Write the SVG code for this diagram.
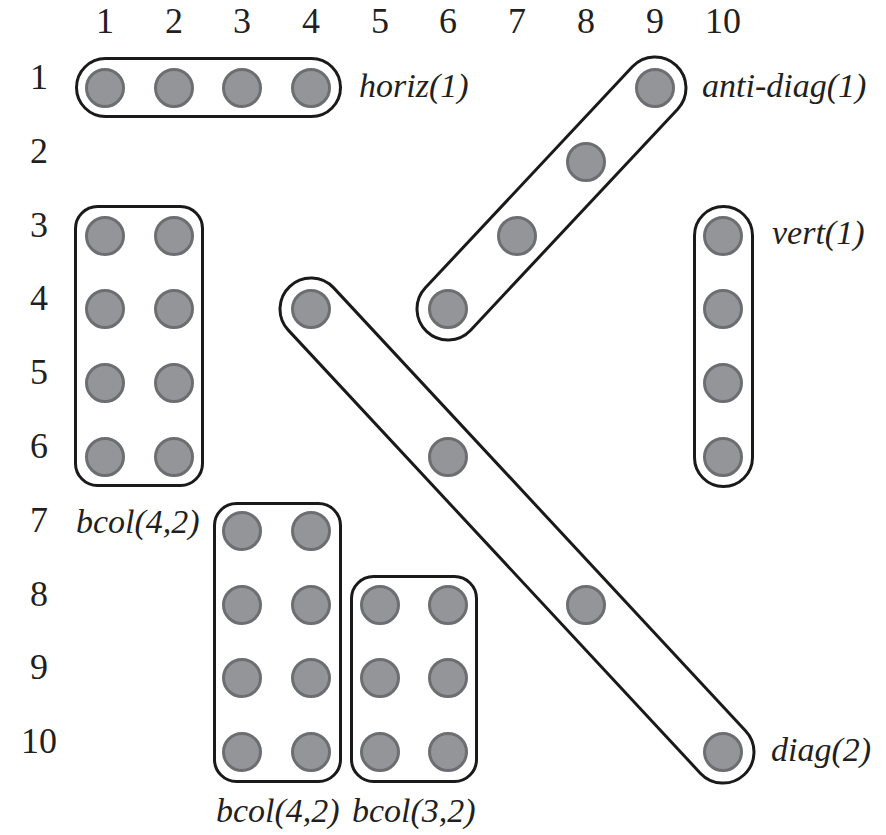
<svg xmlns="http://www.w3.org/2000/svg" width="886" height="835" viewBox="0 0 886 835">
  <style>
    .bg { fill: #ffffff; }
    .axis { font-family: "Liberation Serif", "DejaVu Serif", serif; font-size: 36px; fill: #231f20; text-anchor: middle; }
    .lbl { font-family: "Liberation Serif", "DejaVu Serif", serif; font-size: 34px; font-style: italic; fill: #231f20; }
    .grp { fill: none; stroke: #1a1a1a; stroke-width: 3; }
    .cell { fill: #939598; stroke: #6d6e71; stroke-width: 3; }
  </style>
  <defs>
    <circle id="dot" r="18.5" class="cell"/>
  </defs>
  <rect class="bg" x="0" y="0" width="886" height="835"/>

  <!-- column indices -->
  <g id="col-axis">
    <text class="axis" x="105" y="33">1</text>
    <text class="axis" x="174" y="33">2</text>
    <text class="axis" x="242" y="33">3</text>
    <text class="axis" x="311" y="33">4</text>
    <text class="axis" x="380" y="33">5</text>
    <text class="axis" x="448" y="33">6</text>
    <text class="axis" x="517" y="33">7</text>
    <text class="axis" x="586" y="33">8</text>
    <text class="axis" x="655" y="33">9</text>
    <text class="axis" x="723" y="33">10</text>
  </g>

  <!-- row indices -->
  <g id="row-axis">
    <text class="axis" x="39" y="89">1</text>
    <text class="axis" x="39" y="163">2</text>
    <text class="axis" x="39" y="237">3</text>
    <text class="axis" x="39" y="310">4</text>
    <text class="axis" x="39" y="384">5</text>
    <text class="axis" x="39" y="458">6</text>
    <text class="axis" x="39" y="532">7</text>
    <text class="axis" x="39" y="606">8</text>
    <text class="axis" x="39" y="679">9</text>
    <text class="axis" x="39" y="753">10</text>
  </g>

  <!-- horizontal group, row 1 cols 1-4 -->
  <g id="horiz">
    <rect class="grp" x="76.5" y="58.5" width="264" height="58" rx="29"/>
    <use href="#dot" x="105" y="88"/>
    <use href="#dot" x="174" y="88"/>
    <use href="#dot" x="242" y="88"/>
    <use href="#dot" x="311" y="88"/>
    <text class="lbl" x="359" y="97">horiz(1)</text>
  </g>

  <!-- anti-diagonal group -->
  <g id="anti-diag">
    <rect class="grp" transform="translate(448,309) rotate(-46.88)" x="-31" y="-31" width="364.8" height="62" rx="31"/>
    <use href="#dot" x="448" y="309"/>
    <use href="#dot" x="517" y="236"/>
    <use href="#dot" x="586" y="162"/>
    <use href="#dot" x="655" y="88"/>
    <text class="lbl" x="702" y="97">anti-diag(1)</text>
  </g>

  <!-- vertical group, col 10 rows 3-6 -->
  <g id="vert">
    <rect class="grp" x="694.5" y="206.5" width="58" height="280" rx="29"/>
    <use href="#dot" x="723" y="236"/>
    <use href="#dot" x="723" y="309"/>
    <use href="#dot" x="723" y="383"/>
    <use href="#dot" x="723" y="457"/>
    <text class="lbl" x="772" y="244">vert(1)</text>
  </g>

  <!-- diagonal group, step 2 -->
  <g id="diag">
    <rect class="grp" transform="translate(311,309) rotate(47.08)" x="-31" y="-31" width="667" height="62" rx="31"/>
    <use href="#dot" x="311" y="309"/>
    <use href="#dot" x="448" y="457"/>
    <use href="#dot" x="586" y="605"/>
    <use href="#dot" x="723" y="752"/>
    <text class="lbl" x="771" y="761">diag(2)</text>
  </g>

  <!-- block of columns, rows 3-6 cols 1-2 -->
  <g id="bcol-a">
    <rect class="grp" x="75.5" y="206.5" width="127" height="279" rx="22"/>
    <use href="#dot" x="105" y="236"/>
    <use href="#dot" x="174" y="236"/>
    <use href="#dot" x="105" y="309"/>
    <use href="#dot" x="174" y="309"/>
    <use href="#dot" x="105" y="383"/>
    <use href="#dot" x="174" y="383"/>
    <use href="#dot" x="105" y="457"/>
    <use href="#dot" x="174" y="457"/>
    <text class="lbl" x="76" y="533">bcol(4,2)</text>
  </g>

  <!-- block of columns, rows 7-10 cols 3-4 -->
  <g id="bcol-b">
    <rect class="grp" x="214.5" y="503.5" width="126" height="278" rx="22"/>
    <use href="#dot" x="242" y="531"/>
    <use href="#dot" x="311" y="531"/>
    <use href="#dot" x="242" y="605"/>
    <use href="#dot" x="311" y="605"/>
    <use href="#dot" x="242" y="678"/>
    <use href="#dot" x="311" y="678"/>
    <use href="#dot" x="242" y="752"/>
    <use href="#dot" x="311" y="752"/>
    <text class="lbl" x="216" y="822">bcol(4,2)</text>
  </g>

  <!-- block of columns, rows 8-10 cols 5-6 -->
  <g id="bcol-c">
    <rect class="grp" x="351.5" y="576.5" width="125" height="205" rx="22"/>
    <use href="#dot" x="380" y="605"/>
    <use href="#dot" x="448" y="605"/>
    <use href="#dot" x="380" y="678"/>
    <use href="#dot" x="448" y="678"/>
    <use href="#dot" x="380" y="752"/>
    <use href="#dot" x="448" y="752"/>
    <text class="lbl" x="352" y="822">bcol(3,2)</text>
  </g>

  <g id="connectors"></g>
</svg>
